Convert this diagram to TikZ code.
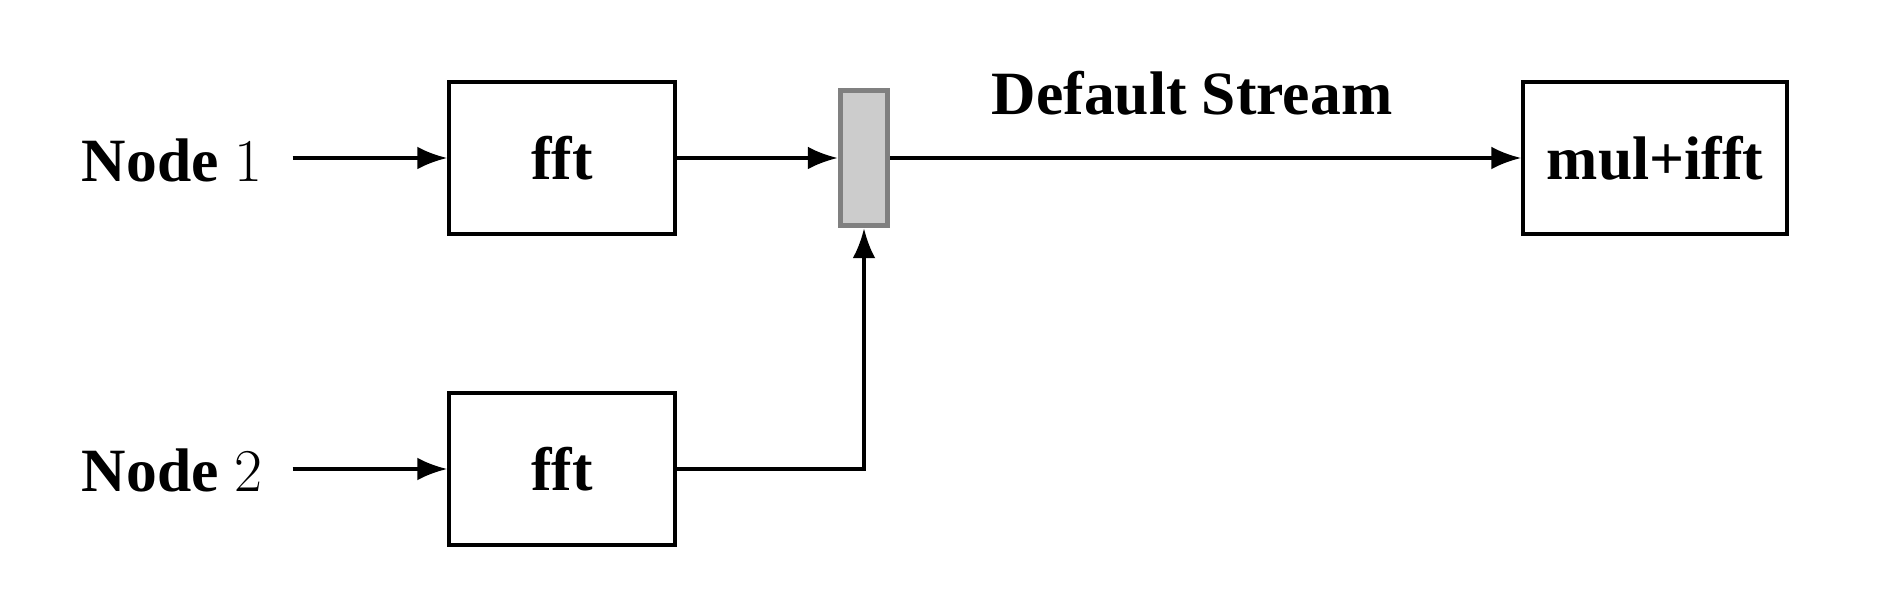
\documentclass[tikz,border=0pt]{standalone}
\usepackage{fontspec}
\setmainfont{Liberation Serif}
\usetikzlibrary{arrows.meta}
\begin{document}
\begin{tikzpicture}[x=0.01cm,y=-0.01cm,
  txt/.style={font=\fontsize{17.5}{21}\selectfont\bfseries},
  box/.style={draw,line width=1pt,minimum width=2.26cm,minimum height=1.52cm,inner sep=0pt,txt},
  lbl/.style={txt,inner sep=0pt},
  sync/.style={draw=black!50,fill=black!20,line width=1.6pt,minimum width=0.47cm,minimum height=1.35cm,inner sep=0pt},
  arr/.style={line width=1pt,-{Latex[length=8.5pt,width=6.5pt]}}]
\useasboundingbox (0,0) rectangle (1898,607);
\node[lbl] (n1) at (172,160) {Node $1$};
\node[lbl] (n2) at (172,470) {Node $2$};
\node[box] (f1) at (562,158) {fft};
\node[box] (f2) at (562,469) {fft};
\node[sync] (s) at (864,158) {};
\node[box,minimum width=2.64cm] (m) at (1655,158) {mul+ifft};
\node[lbl] (ds) at (1192,93) {Default Stream};
\draw[arr] ([xshift=0.3cm]n1.east |- f1.west) -- (f1.west);
\draw[arr] ([xshift=0.3cm]n2.east |- f2.west) -- (f2.west);
\draw[arr] (f1.east) -- (s.west);
\draw[arr] (s.east) -- (m.west);
\draw[arr] (f2.east) -| (s.south);
\end{tikzpicture}
\end{document}
